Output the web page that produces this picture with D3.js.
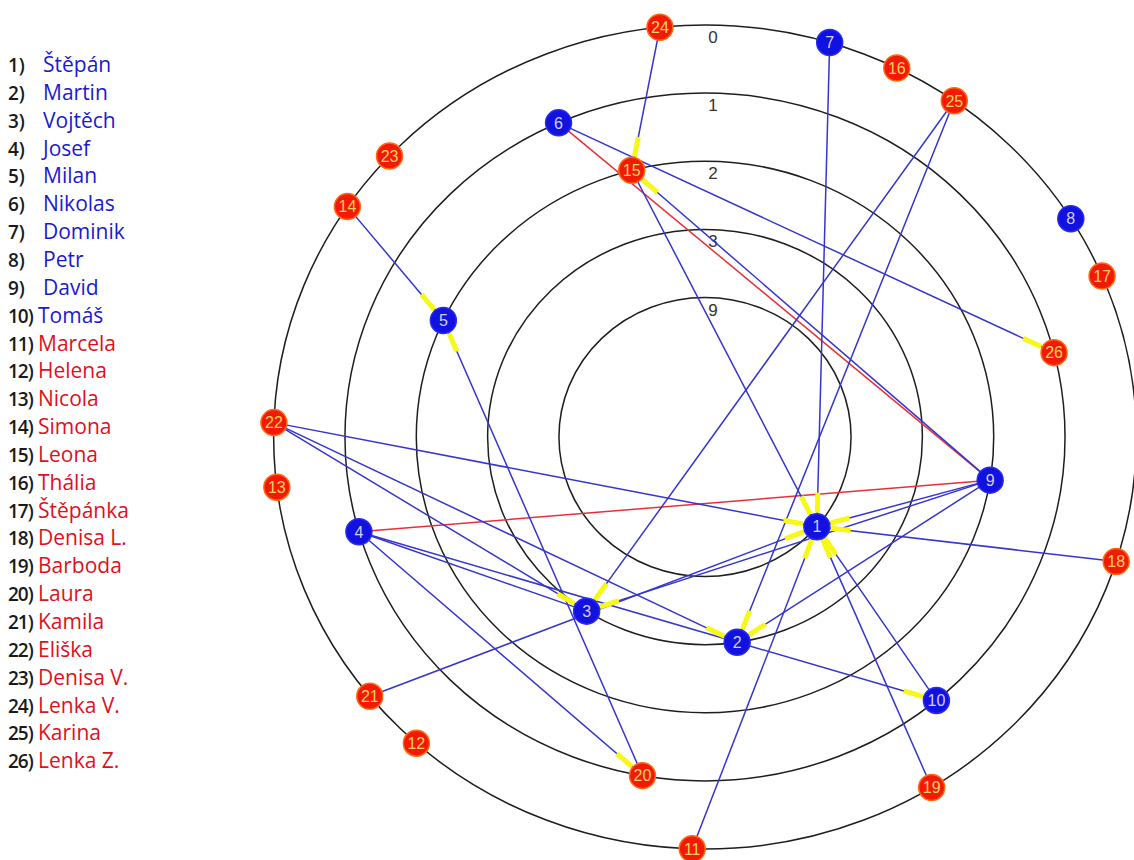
<!DOCTYPE html>
<html><head><meta charset="utf-8">
<script src="https://cdn.jsdelivr.net/npm/d3@7"></script>
<style>body{margin:0;background:#fff;overflow:hidden}</style>
</head><body><svg id="c" width="1134" height="860"></svg>
<script>
const names = ["Štěpán","Martin","Vojtěch","Josef","Milan","Nikolas","Dominik","Petr","David","Tomáš",
  "Marcela","Helena","Nicola","Simona","Leona","Thália","Štěpánka","Denisa L.","Barboda","Laura",
  "Kamila","Eliška","Denisa V.","Lenka V.","Karina","Lenka Z."];
const genders = ["m","m","m","m","m","m","m","m","m","m","f","f","f","f","f","f","f","f","f","f","f","f","f","f","f","f"];
const ringLabels = ["0","1","2","3","9"];
// ring index per node (0 = outer ring)
const nodeRing = [4,3,3,1,2,1,0,0,2,1,0,0,0,0,2,0,0,0,0,1,0,0,0,0,0,1];
// angle in degrees, clockwise from top
const nodeAngle = [130,171.5,213,254,295,336,16.8,58,99,140,181.7,222,263,304,345.3,26.4,67,107.6,148.3,190,231,272,313,354,35.3,75.8];
// positive choices: [from, to] (arrowhead at "to")
const choices = [[24,15],[7,1],[6,26],[15,1],[9,15],[14,5],[20,5],[25,3],[25,2],[9,2],[9,1],[9,3],
  [22,1],[22,2],[22,3],[4,20],[2,10],[10,1],[19,1],[11,1],[21,1],[18,1]];
// ties drawn without a visible arrowhead
const ties = [[4,3],[4,2]];
// negative choices
const rejections = [[9,4],[9,6]];

const cx = 705, cy = 437, aspect = 1.047, R = 13;
const svg = d3.select("#c");
const rScale = d3.scaleLinear().domain([0, ringLabels.length - 1]).range([412, 139.5]);
const aScale = d3.scaleLinear().domain([0, 360]).range([0, 2 * Math.PI]);

const nodes = names.map((n, i) => {
  const r = rScale(nodeRing[i]), a = aScale(nodeAngle[i]);
  return {id: i + 1, name: n, g: genders[i], x: cx + aspect * r * Math.sin(a), y: cy - r * Math.cos(a)};
});
const byId = id => nodes[id - 1];

// rings
const gR = svg.append("g");
gR.selectAll("ellipse").data(ringLabels).join("ellipse")
  .attr("cx", cx).attr("cy", cy)
  .attr("rx", (d, i) => aspect * rScale(i)).attr("ry", (d, i) => rScale(i))
  .attr("fill", "none").attr("stroke", "#1e1e1e").attr("stroke-width", 1.5);
gR.selectAll("text").data(ringLabels).join("text")
  .attr("x", cx + 8).attr("y", (d, i) => cy - rScale(i) + 18)
  .attr("text-anchor", "middle").attr("font-family", "Liberation Sans, Arial, sans-serif")
  .attr("font-size", 17).attr("fill", "#333").text(d => d);

// lines
const gL = svg.append("g");
gL.selectAll("line.neg").data(rejections).join("line").attr("class", "neg")
  .attr("x1", d => byId(d[0]).x).attr("y1", d => byId(d[0]).y)
  .attr("x2", d => byId(d[1]).x).attr("y2", d => byId(d[1]).y)
  .attr("stroke", "#e8303a").attr("stroke-width", 1.5);
gL.selectAll("line.pos").data(choices.concat(ties)).join("line").attr("class", "pos")
  .attr("x1", d => byId(d[0]).x).attr("y1", d => byId(d[0]).y)
  .attr("x2", d => byId(d[1]).x).attr("y2", d => byId(d[1]).y)
  .attr("stroke", "#3535d0").attr("stroke-width", 1.5);

// arrow heads (yellow)
function seg(d, r0) {
  const s = byId(d[0]), t = byId(d[1]);
  const dx = s.x - t.x, dy = s.y - t.y, L = Math.hypot(dx, dy);
  return [t.x + dx / L * r0, t.y + dy / L * r0];
}
svg.append("g").selectAll("line").data(choices).join("line")
  .attr("x1", d => seg(d, R + 1)[0]).attr("y1", d => seg(d, R + 1)[1])
  .attr("x2", d => seg(d, R + 21)[0]).attr("y2", d => seg(d, R + 21)[1])
  .attr("stroke", "#f8f818").attr("stroke-width", 5).attr("stroke-linecap", "butt");

// nodes
const gN = svg.append("g").selectAll("g").data(nodes).join("g")
  .attr("transform", d => `translate(${d.x},${d.y})`);
gN.append("circle").attr("r", R)
  .attr("fill", d => d.g === "m" ? "#1212e0" : "#f21a05")
  .attr("stroke", d => d.g === "m" ? "#2a2af0" : "#ff6a10").attr("stroke-width", 1.5);
gN.append("text").attr("text-anchor", "middle").attr("dy", "0.36em")
  .attr("font-family", "Liberation Sans, Arial, sans-serif").attr("font-size", 16)
  .attr("fill", d => d.g === "m" ? "#cfd0ee" : "#ffd060").text(d => d.id);

// legend
const gLeg = svg.append("g").selectAll("g").data(nodes).join("g")
  .attr("transform", (d, i) => `translate(0,${65 + 27.85 * i + 7})`);
gLeg.append("text").attr("x", 8).attr("font-family", "Open Sans, sans-serif").attr("font-size", 19)
  .attr("font-weight", 600).attr("letter-spacing", d => d.id < 10 ? 0 : -1)
  .attr("fill", "#1a1a1a").text(d => d.id + ")");
gLeg.append("text").attr("x", d => d.id < 10 ? 43 : 38).attr("font-family", "Open Sans, sans-serif").attr("font-size", 21)
  .attr("fill", d => d.g === "m" ? "#1a1ad0" : "#e01020").text(d => d.name);
</script></body></html>
